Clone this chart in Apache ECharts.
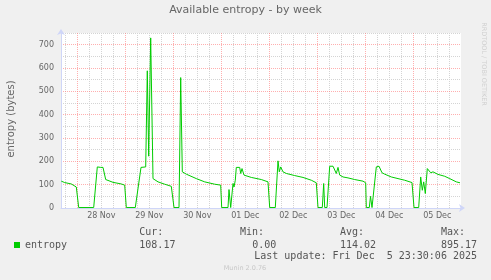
<!DOCTYPE html>
<html>
<head>
<meta charset="utf-8">
<script src="https://cdn.jsdelivr.net/npm/echarts@6/dist/echarts.min.js"></script>
<style>
html,body{margin:0;padding:0;background:#F0F0F0;}
#chart{width:491px;height:280px;}
</style>
</head>
<body>
<div id="chart"></div>
<script>
// Hours relative to 28 Nov 00:00
var hours = [-8.0,-6.3,-3.0,-0.5,0.7,8.2,10.0,11.7,12.85,14.2,17.85,22.0,23.7,24.5,29.0,31.85,34.2,35.0,35.7,36.7,37.85,40.35,43.7,47.0,47.85,48.35,50.85,51.7,52.5,54.5,59.5,63.7,68.7,71.7,72.2,75.35,75.85,76.7,77.35,77.85,78.35,79.0,79.5,81.2,81.7,82.35,83.35,87.0,92.0,95.35,96.2,99.0,100.35,101.0,101.7,102.85,104.5,108.7,112.85,117.0,119.5,120.35,122.5,123.2,123.7,124.85,126.2,127.85,128.7,129.5,130.35,131.2,132.85,135.35,138.7,142.85,144.2,144.5,146.0,146.6,147.35,149.5,150.85,152.35,153.7,157.0,160.35,163.7,167.35,168.35,170.7,171.7,172.5,173.2,174.0,175.0,175.7,176.7,177.85,180.35,183.7,186.2,189.5,191.35];
var entropy = [115,109,103,90,2,2,176,174,174,122,110,103,98,2,2,174,176,588,222,729,126,112,102,93,90,2,2,559,155,145,126,112,102,98,2,2,79,2,2,105,90,119,174,174,148,169,141,131,122,112,2,2,202,155,176,155,148,139,131,119,108,2,2,105,2,2,179,179,176,148,174,141,133,129,122,115,108,2,2,50,2,176,179,151,145,133,126,119,109,2,2,133,76,112,62,169,174,151,155,144,136,126,112,108];

var dayLabels = ["28 Nov","29 Nov","30 Nov","01 Dec","02 Dec","03 Dec","04 Dec","05 Dec"];
var labelHours = [12,36,60,84,108,132,156,180];
var majorHours = [0,24,48,72,96,120,144,168];
var minorHours = [-6,6,12,18,30,36,42,54,60,66,78,84,90,102,108,114,126,132,138,150,156,162,174,180,186];
var yLabelValues = [0,100,200,300,400,500,600,700];
var yMinorValues = [50,150,250,350,450,550,650,750];

var legendHeaders = ["Cur:","Min:","Avg:","Max:"];
var legendValues = ["108.17","0.00","114.02","895.17"];
var lastUpdate = "Last update: Fri Dec  5 23:30:06 2025";

var chart = echarts.init(document.getElementById('chart'), null, {renderer:'canvas'});
var seriesData = hours.map(function(h,i){return [h, entropy[i]];});

var mono = '"DejaVu Sans Mono", monospace';
var sans = '"DejaVu Sans", sans-serif';
var headerX = [139.3, 240, 340, 441];
var valueX = [139.3, 252.3, 340, 441];

var graphics = [
  {type:'text', left:'center', top:5, style:{text:'Available entropy - by week', font:'11px '+sans, fill:'#666'}},
  {type:'text', x:11, y:119, rotation:Math.PI/2, style:{text:'entropy (bytes)', font:'10px '+sans, fill:'#666', align:'center', verticalAlign:'middle'}},
  {type:'text', x:484, y:64, rotation:-Math.PI/2, style:{text:'RRDTOOL / TOBI OETIKER', font:'6.5px '+sans, fill:'#d0d0d0', align:'center', verticalAlign:'middle'}},
  {type:'text', x:245, y:268, style:{text:'Munin 2.0.76', font:'6.5px '+sans, fill:'#c8c8c8', align:'center', verticalAlign:'middle'}},
  {type:'text', x:477, y:256.7, style:{text:lastUpdate, font:'10px '+mono, fill:'#555', align:'right', verticalAlign:'middle'}}
];
legendHeaders.forEach(function(t,i){
  graphics.push({type:'text', x:headerX[i], y:232.3, style:{text:t, font:'10px '+mono, fill:'#555', align:'left', verticalAlign:'middle'}});
});
legendValues.forEach(function(t,i){
  graphics.push({type:'text', x:valueX[i], y:245, style:{text:t, font:'10px '+mono, fill:'#555', align:'left', verticalAlign:'middle'}});
});

var option = {
  backgroundColor:'#F0F0F0',
  animation:false,
  grid:{left:61, right:30, top:33, bottom:72, show:true, backgroundColor:'#FFFFFF', borderWidth:0},
  legend:{data:['entropy'], left:14, top:240, padding:0, icon:'rect', itemWidth:6, itemHeight:6, itemGap:5,
    textStyle:{fontFamily:mono, fontSize:10, color:'#555'}},
  xAxis:[
    {type:'value', min:-8.15, max:191.85, z:2,
     axisLine:{show:true, onZero:false, lineStyle:{color:'#CFD6F8', width:1}, symbol:['none','arrow'], symbolSize:[6,6], symbolOffset:[0,4]},
     axisTick:{show:false, customValues:majorHours},
     axisLabel:{show:true, customValues:labelHours, margin:4, fontFamily:sans, fontSize:8, color:'#666',
       formatter:function(v){var i=labelHours.indexOf(v); return i>=0?dayLabels[i]:'';}},
     splitLine:{show:true, lineStyle:{color:'#FF7A7A', opacity:0.6, width:1, type:[1,1]}}},
    {type:'value', min:-8.15, max:191.85, z:1,
     axisLine:{show:false, onZero:false}, axisLabel:{show:false},
     axisTick:{show:false, customValues:minorHours},
     splitLine:{show:true, lineStyle:{color:'#D4D4D4', width:1, type:[1,1]}}}
  ],
  yAxis:[
    {type:'value', min:0, max:750, z:2,
     axisLine:{show:true, onZero:false, lineStyle:{color:'#CFD6F8', width:1}, symbol:['none','arrow'], symbolSize:[6,6], symbolOffset:[0,4]},
     axisTick:{show:false, customValues:yLabelValues},
     axisLabel:{show:true, customValues:yLabelValues, margin:7, fontFamily:sans, fontSize:8, color:'#666'},
     splitLine:{show:true, lineStyle:{color:'#FF7A7A', opacity:0.6, width:1, type:[1,1]}}},
    {type:'value', min:0, max:750, z:1, position:'left',
     axisLine:{show:false, onZero:false}, axisLabel:{show:false}, axisTick:{show:false, customValues:yMinorValues},
     splitLine:{show:true, lineStyle:{color:'#D4D4D4', width:1, type:[1,1]}}}
  ],
  series:[{
    name:'entropy', type:'line', xAxisIndex:0, yAxisIndex:0, data:seriesData,
    showSymbol:false, symbol:'none', color:'#00CC00', z:5,
    lineStyle:{color:'#00CC00', width:1}
  }],
  graphic:graphics
};
chart.setOption(option);
</script>
</body>
</html>
